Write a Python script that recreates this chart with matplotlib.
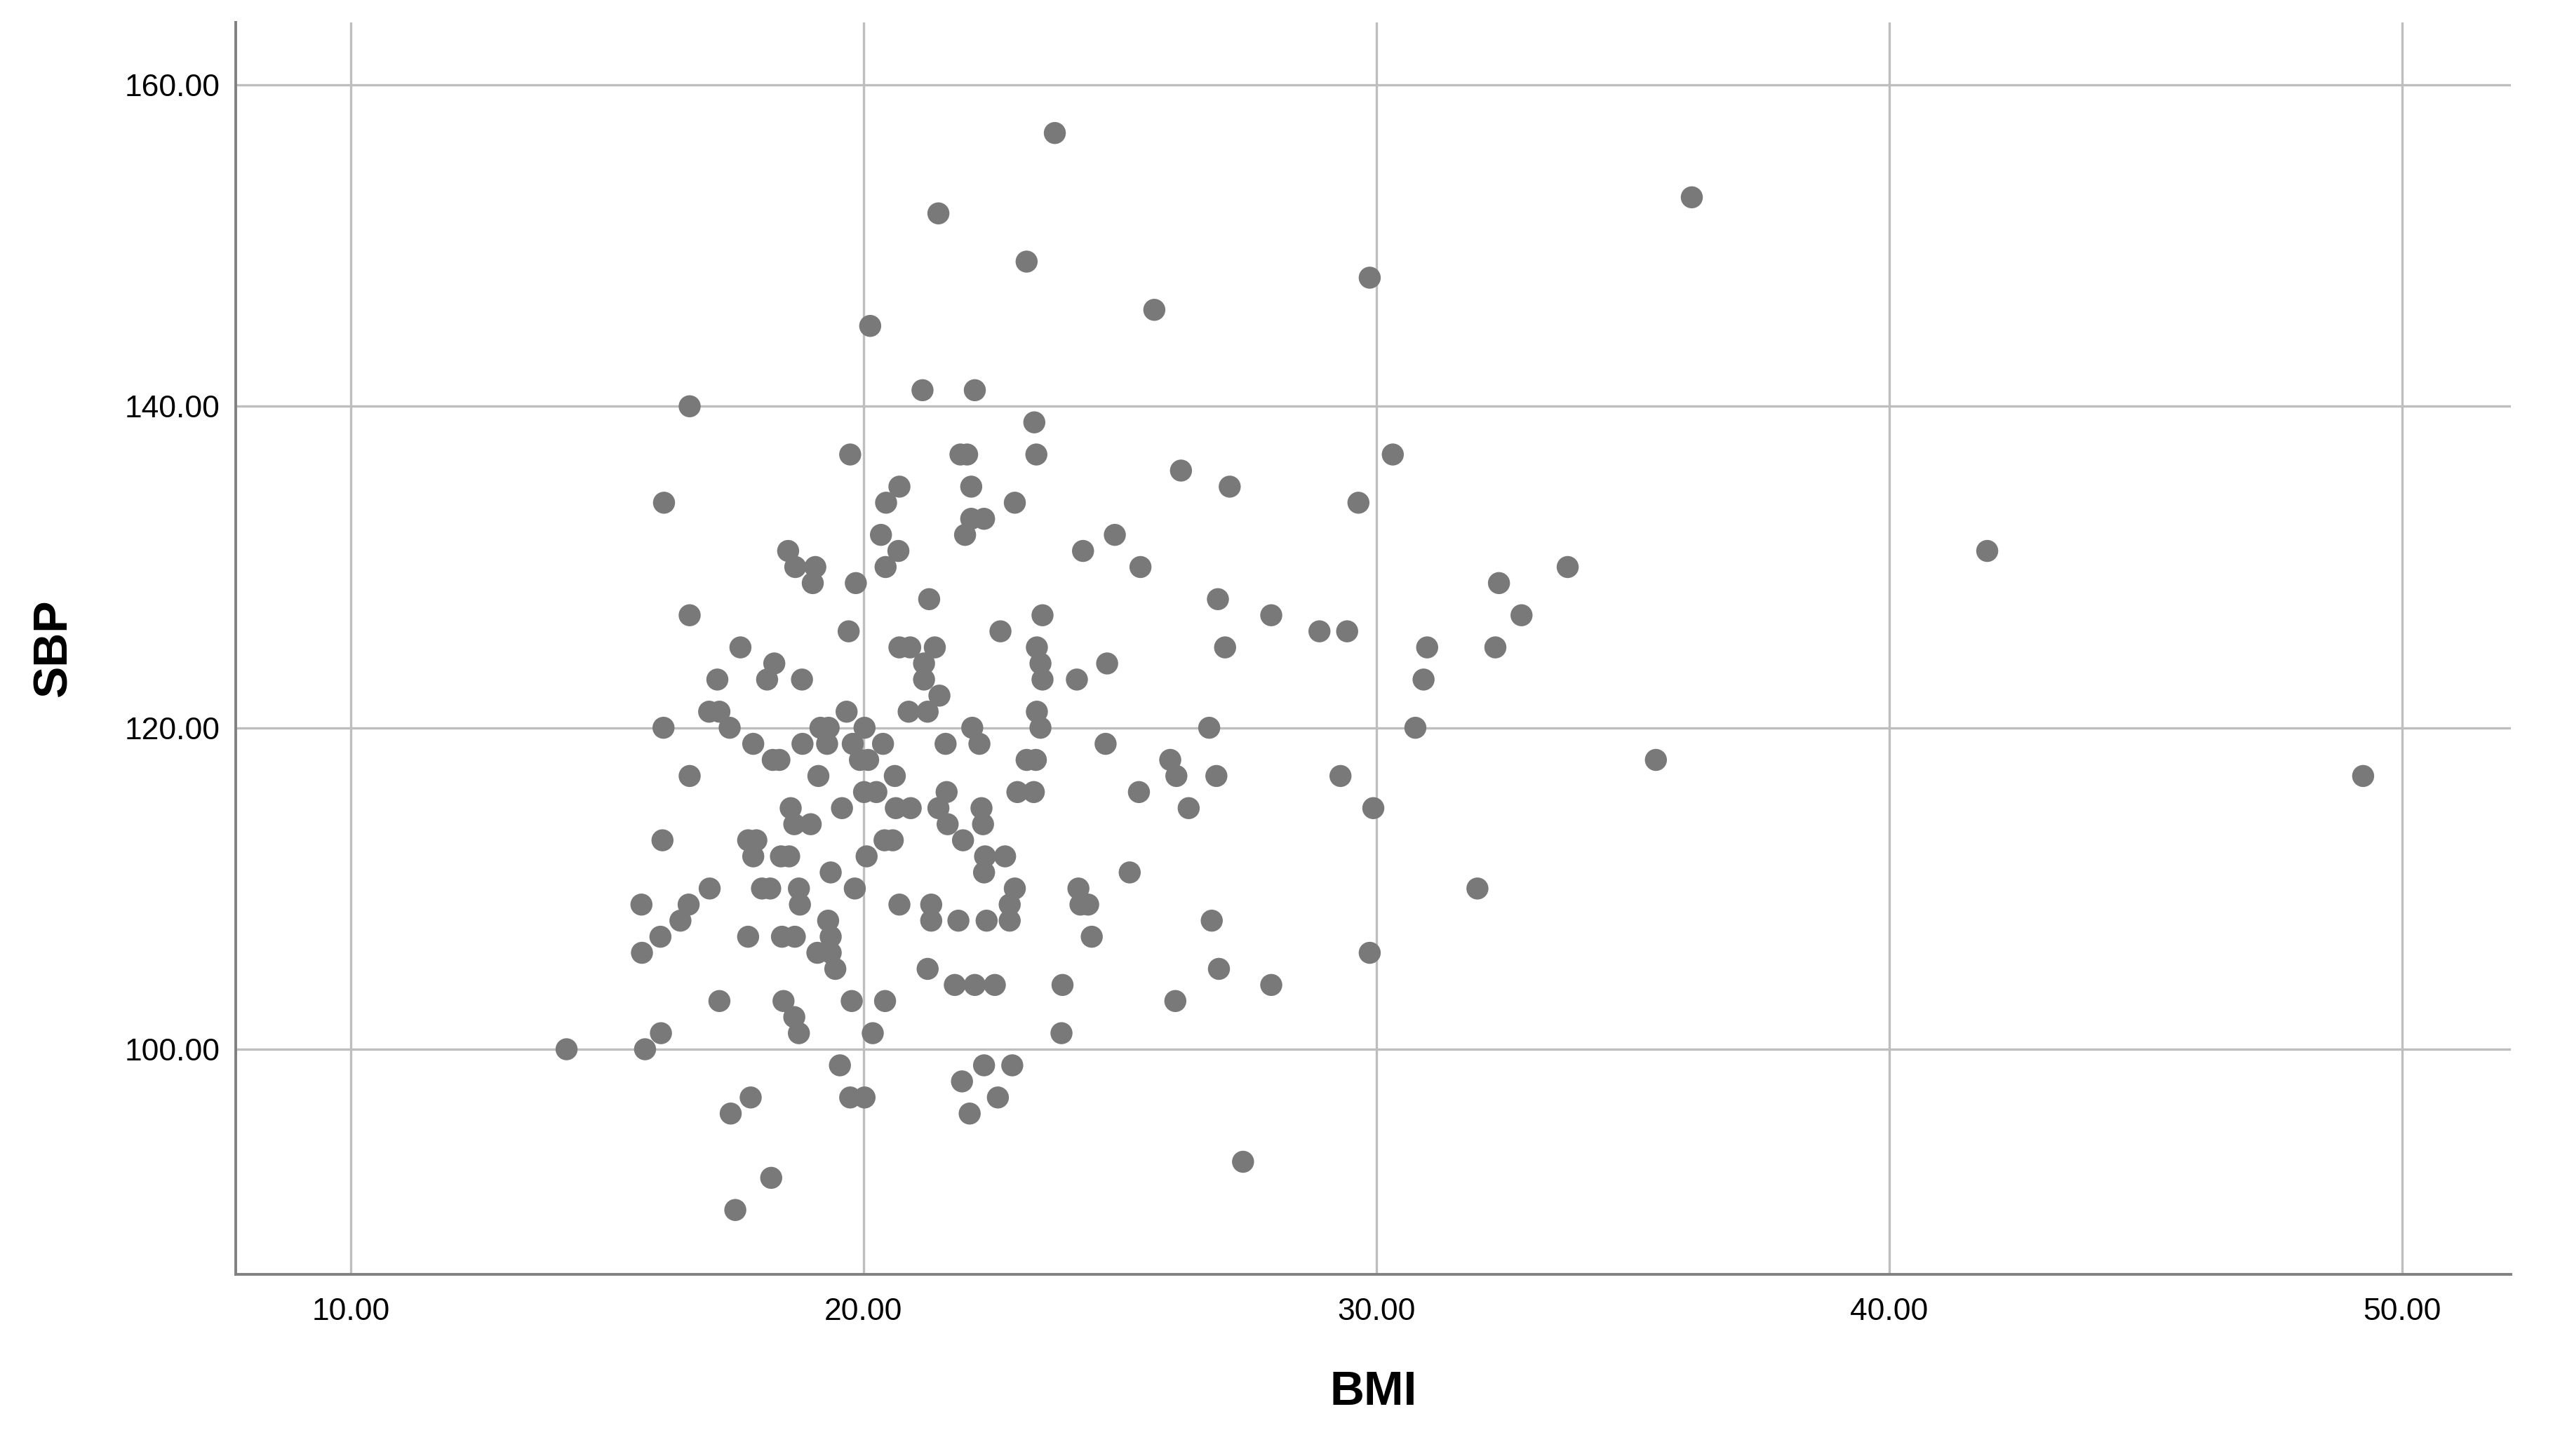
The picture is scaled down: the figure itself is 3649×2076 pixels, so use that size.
import matplotlib
matplotlib.use("Agg")
import matplotlib.pyplot as plt

plt.rcParams['font.family'] = ['Liberation Sans', 'DejaVu Sans']

# BMI / SBP pairs (SBP is integer valued)
bmi = [20.13, 21.46, 23.18, 23.73, 21.15, 22.17, 25.67, 29.87, 36.15, 23.33,
       19.74, 21.89, 22.02, 23.37, 30.32,
       26.19, 27.14, 20.70, 22.10,
       16.61, 16.11, 20.44, 22.95, 29.65,
       22.10, 22.35,
       20.34, 21.98, 24.90,
       20.68, 18.53, 24.28, 41.91,
       20.43, 18.67, 19.06, 25.40, 33.73,
       19.01, 19.85, 32.39,
       21.28, 26.91,
       16.61, 23.49, 27.95, 32.83,
       19.71, 22.67, 28.89, 29.43,
       17.60, 20.70, 20.91, 21.39, 23.38, 27.05, 30.99, 32.32,
       18.26, 21.18, 23.45, 24.75,
       17.15, 18.12, 18.80, 21.18, 23.49, 24.16, 30.92,
       21.48,
       16.99, 17.19, 19.67, 20.88, 21.25, 23.38,
       16.10, 17.39, 19.16, 19.32, 20.02, 22.12, 23.45, 26.74, 30.76,
       17.85, 18.81, 19.29, 19.79, 20.38, 21.60, 22.26, 24.72,
       18.23, 18.36, 19.93, 20.09, 23.18, 23.36, 25.98, 35.45,
       16.61, 19.12, 20.61, 26.10, 26.88, 29.30, 49.24,
       20.01, 20.25, 21.62, 23.00, 23.32, 25.37,
       18.58, 19.58, 20.63, 20.92, 21.46, 22.30, 26.34, 29.94,
       18.65, 18.97, 21.64, 22.33,
       16.08, 17.75, 17.91, 20.41, 20.57, 21.94,
       17.85, 18.39, 18.55, 20.06, 22.37, 22.76,
       19.36, 22.35, 25.19,
       17.00, 18.02, 18.18, 18.74, 19.83, 22.95, 24.19, 31.97,
       15.67, 16.59, 18.76, 20.70, 21.32, 22.85, 24.23, 24.38,
       16.43, 19.31, 21.32, 21.85, 22.40, 22.85, 26.79,
       16.04, 17.75, 18.41, 18.66, 19.36, 24.45,
       15.68, 19.10, 19.36, 29.87,
       19.45, 21.25, 26.93,
       21.78, 22.17, 22.56, 23.88, 27.95,
       17.19, 18.44, 19.77, 20.42, 26.08,
       18.65,
       16.05, 18.74, 20.18, 23.86,
       14.21, 15.74,
       19.54, 22.35, 22.90,
       21.92,
       17.80, 19.74, 20.02, 22.62,
       17.41, 22.07,
       27.40,
       18.20,
       17.50]

sbp = [145, 152, 149, 157, 141, 141, 146, 148, 153, 139,
       137, 137, 137, 137, 137,
       136, 135, 135, 135,
       140, 134, 134, 134, 134,
       133, 133,
       132, 132, 132,
       131, 131, 131, 131,
       130, 130, 130, 130, 130,
       129, 129, 129,
       128, 128,
       127, 127, 127, 127,
       126, 126, 126, 126,
       125, 125, 125, 125, 125, 125, 125, 125,
       124, 124, 124, 124,
       123, 123, 123, 123, 123, 123, 123,
       122,
       121, 121, 121, 121, 121, 121,
       120, 120, 120, 120, 120, 120, 120, 120, 120,
       119, 119, 119, 119, 119, 119, 119, 119,
       118, 118, 118, 118, 118, 118, 118, 118,
       117, 117, 117, 117, 117, 117, 117,
       116, 116, 116, 116, 116, 116,
       115, 115, 115, 115, 115, 115, 115, 115,
       114, 114, 114, 114,
       113, 113, 113, 113, 113, 113,
       112, 112, 112, 112, 112, 112,
       111, 111, 111,
       110, 110, 110, 110, 110, 110, 110, 110,
       109, 109, 109, 109, 109, 109, 109, 109,
       108, 108, 108, 108, 108, 108, 108,
       107, 107, 107, 107, 107, 107,
       106, 106, 106, 106,
       105, 105, 105,
       104, 104, 104, 104, 104,
       103, 103, 103, 103, 103,
       102,
       101, 101, 101, 101,
       100, 100,
       99, 99, 99,
       98,
       97, 97, 97, 97,
       96, 96,
       93,
       92,
       90]

xticks = [10, 20, 30, 40, 50]
yticks = [100, 120, 140, 160]

fig = plt.figure(figsize=(3649 / 200, 2076 / 200), dpi=200)
ax = fig.add_axes([0.0921, 0.1248, 0.8887, 0.8598])

ax.scatter(bmi, sbp, s=128, color='#797979', edgecolors='none', zorder=3)

ax.set_xlim(7.76, 52.12)
ax.set_ylim(86.0, 163.88)
ax.set_xticks(xticks)
ax.set_yticks(yticks)
ax.set_xticklabels(['%.2f' % v for v in xticks])
ax.set_yticklabels(['%.2f' % v for v in yticks])
ax.tick_params(length=0, labelsize=16, labelcolor='black')
ax.tick_params(axis='x', pad=12)
ax.tick_params(axis='y', pad=8)

ax.grid(True, color='#bebebe', linewidth=1.2, zorder=0)
ax.set_axisbelow(True)
for side in ['top', 'right']:
    ax.spines[side].set_visible(False)
for side in ['left', 'bottom']:
    ax.spines[side].set_color('#808080')
    ax.spines[side].set_linewidth(1.4)

ax.set_xlabel('BMI', fontsize=24.5, fontweight='bold', va='center')
ax.set_ylabel('SBP', fontsize=24.5, fontweight='bold', va='center')
ax.xaxis.set_label_coords(0.5, -0.0941)
ax.yaxis.set_label_coords(-0.0799, 0.5)

fig.savefig('out.png', dpi=200)
